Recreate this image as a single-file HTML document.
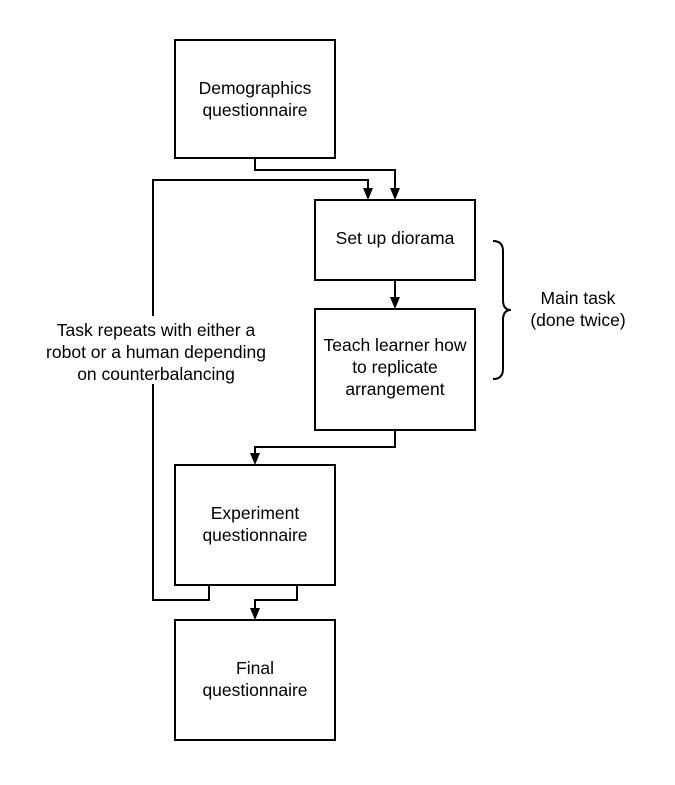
<!DOCTYPE html>
<html><head><style>
body{margin:0;background:#fff}
svg text{font-family:"Liberation Sans",sans-serif;font-size:17.5px;fill:#000}
</style></head><body>
<svg width="675" height="780" viewBox="0 0 675 780" xmlns="http://www.w3.org/2000/svg">
<g fill="none" stroke="#000" stroke-width="2">
<rect x="175" y="40" width="160" height="118"/>
<rect x="315" y="200" width="160" height="80"/>
<rect x="315" y="309" width="160" height="121"/>
<rect x="175" y="465" width="160" height="120"/>
<rect x="175" y="620" width="160" height="120"/>
<path d="M255 158V170H395V190"/>
<path d="M209 585V600H153V180H368V190"/>
<path d="M395 280V299"/>
<path d="M395 430V447H255V455"/>
<path d="M297 585V600H255V610"/>
<path d="M493 241Q503 241 503 251V300Q503 310 511 310Q503 310 503 320V369Q503 379 493 379"/>
</g>
<g fill="#000">
<path d="M390 188L400 188L395 200Z"/>
<path d="M363 188L373 188L368 200Z"/>
<path d="M390 297L400 297L395 309Z"/>
<path d="M250 453L260 453L255 465Z"/>
<path d="M250 608L260 608L255 620Z"/>
</g>
<rect x="40" y="316" width="230" height="68" fill="#fff"/>
<g text-anchor="middle">
<text x="255" y="94">Demographics</text>
<text x="255" y="116">questionnaire</text>
<text x="395" y="244">Set up diorama</text>
<text x="395" y="351">Teach learner how</text>
<text x="395" y="373">to replicate</text>
<text x="395" y="395">arrangement</text>
<text x="255" y="519">Experiment</text>
<text x="255" y="541">questionnaire</text>
<text x="255" y="674">Final</text>
<text x="255" y="696">questionnaire</text>
<text x="578" y="304">Main task</text>
<text x="578" y="326">(done twice)</text>
<text x="156" y="336">Task repeats with either a</text>
<text x="156" y="358">robot or a human depending</text>
<text x="156" y="380">on counterbalancing</text>
</g>
</svg>
</body></html>
